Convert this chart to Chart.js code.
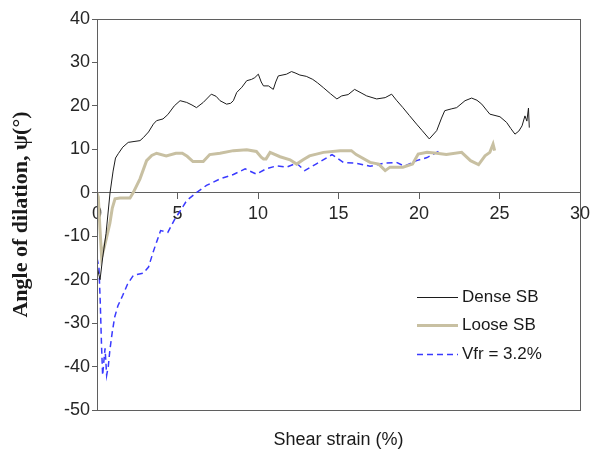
<!DOCTYPE html>
<html lang="en">
<head>
    <meta charset="UTF-8">
    <title>Angle of dilation vs shear strain</title>
    <script src="https://cdn.jsdelivr.net/npm/chart.js"></script>
    <style>
        body { margin: 0; background: #fff; }
        #wrap { width: 590px; height: 461px; }
    </style>
</head>
<body>
    <div id="wrap"><canvas id="dilation-chart" width="590" height="461"></canvas></div>

    <script>
        // values
        const denseX = [0, 0.19, 0.35, 0.56, 0.81, 1.0, 1.15, 1.32, 1.6, 1.94, 2.3, 2.67, 2.88, 3.2, 3.5, 3.7, 4.1, 4.4, 4.8, 5.16, 5.57, 5.9, 6.18, 6.6, 7.1, 7.4, 7.64, 8.05, 8.3, 8.47, 8.68, 9.0, 9.3, 9.6, 9.8, 10.02, 10.2, 10.34, 10.65, 10.95, 11.1, 11.26, 11.77, 12.08, 12.3, 12.6, 13.0, 13.4, 13.7, 14.06, 14.5, 14.9, 15.2, 15.6, 16.0, 16.4, 16.75, 17.37, 17.9, 18.3, 18.6, 19.0, 19.4, 19.85, 20.2, 20.64, 21.1, 21.4, 21.6, 22.0, 22.34, 22.86, 23.27, 23.6, 23.9, 24.2, 24.4, 25.03, 25.44, 25.7, 25.96, 26.2, 26.4, 26.58, 26.7, 26.8, 26.85];
        const denseY = [-17, -20, -15, -9.4, 0, 5, 8, 9, 10.5, 11.6, 11.8, 12, 12.7, 14, 15.8, 16.6, 17, 18, 20, 21.2, 20.8, 20.2, 19.6, 20.8, 22.7, 22.2, 21.2, 20.4, 20.6, 21.2, 23.1, 24.3, 25.8, 26.1, 26.5, 27.3, 25.5, 24.6, 24.6, 23.8, 25.5, 26.9, 27.3, 27.9, 27.6, 27.1, 26.8, 26.1, 25.3, 24.2, 22.8, 21.6, 22.3, 22.6, 23.8, 23.0, 22.3, 21.6, 21.9, 22.7, 21.3, 19.6, 17.8, 15.8, 14.3, 12.4, 14.3, 17.2, 18.9, 19.3, 19.6, 21.2, 21.8, 21.3, 20.4, 19.0, 18.1, 17.5, 16.2, 14.8, 13.5, 14.2, 15.4, 17.7, 16.5, 19.5, 15.0];

        const looseX = [0, 0.08, 0.18, 0.29, 0.45, 0.6, 0.8, 0.95, 1.12, 1.43, 2.05, 2.26, 2.67, 3.08, 3.4, 3.7, 4.3, 4.9, 5.3, 5.6, 5.96, 6.6, 7.0, 7.64, 8.47, 9.3, 9.9, 10.2, 10.34, 10.5, 10.75, 11.37, 11.99, 12.4, 12.8, 13.2, 14.06, 15.1, 15.8, 16.1, 16.96, 17.5, 17.9, 18.2, 19.0, 19.6, 19.95, 20.5, 21.1, 21.7, 22.65, 23.2, 23.7, 24.1, 24.4, 24.6, 24.7];
        const looseY = [0, -1, -8, -14.8, -12.5, -10.2, -7, -3.5, -1.4, -1.2, -1.2, 0.1, 3.2, 7.4, 8.6, 9.1, 8.5, 9.1, 9.1, 8.4, 7.2, 7.2, 8.8, 9.1, 9.7, 9.9, 9.5, 8.2, 7.8, 7.8, 9.3, 8.3, 7.6, 6.6, 7.6, 8.5, 9.3, 9.7, 9.7, 8.8, 7.0, 6.6, 5.1, 5.9, 5.9, 6.6, 8.9, 9.3, 9.1, 8.8, 9.3, 7.4, 6.5, 8.5, 9.3, 11.2, 9.7];

        const vfrX = [0, 0.12, 0.2, 0.28, 0.35, 0.42, 0.5, 0.6, 0.7, 0.8, 0.95, 1.1, 1.3, 1.6, 1.9, 2.26, 2.88, 3.2, 3.5, 3.95, 4.4, 4.84, 5.2, 5.57, 6.2, 6.8, 7.64, 8.47, 9.2, 9.9, 10.5, 11.15, 11.77, 12.4, 12.9, 13.6, 14.6, 15.3, 16.1, 16.96, 17.8, 18.6, 19.1, 19.85, 20.5, 21.3];
        const vfrY = [-15, -17.1, -25, -35, -42, -39, -35.8, -42, -40, -36.2, -32, -28.6, -26, -23.6, -21, -19, -18.5, -17.1, -13.5, -8.7, -9.1, -6.0, -4, -1.8, 0.1, 1.7, 3.2, 4.2, 5.5, 4.3, 5.5, 6.2, 5.9, 6.8, 5.1, 6.6, 8.8, 7.0, 6.8, 6.1, 6.8, 7.0, 6.1, 7.4, 8.1, 9.7];

        const seriesNames = ['Dense SB', 'Loose SB', 'Vfr = 3.2%'];
        const xTicks = [0, 5, 10, 15, 20, 25, 30];
        const yTicks = [-50, -40, -30, -20, -10, 0, 10, 20, 30, 40];

        const toPoints = (xs, ys) => xs.map((x, i) => ({ x: x, y: ys[i] }));

        const sans = "'Liberation Sans', Arial, sans-serif";
        const tickFont = { family: sans, size: 18 };
        const frameColor = '#5f5f5f';

        // box round the plot area plus the legend inside it
        const frameAndLegend = {
            id: 'frameAndLegend',
            afterDraw(chart) {
                const { ctx, chartArea: a } = chart;
                ctx.save();
                ctx.strokeStyle = frameColor;
                ctx.lineWidth = 1;
                ctx.strokeRect(Math.round(a.left) + 0.5, Math.round(a.top) + 0.5,
                               Math.round(a.right - a.left), Math.round(a.bottom - a.top));

                const rowsY = [297, 325, 354];
                ctx.font = "17px " + sans;
                ctx.textBaseline = 'middle';
                chart.data.datasets.forEach((ds, i) => {
                    const y = rowsY[i] + 0.5;
                    ctx.beginPath();
                    ctx.strokeStyle = ds.borderColor;
                    ctx.lineWidth = ds.borderWidth;
                    ctx.setLineDash(ds.borderDash || []);
                    ctx.moveTo(417, y);
                    ctx.lineTo(458, y);
                    ctx.stroke();
                    ctx.setLineDash([]);
                    ctx.fillStyle = '#1a1a1a';
                    ctx.fillText(ds.label, 462, rowsY[i]);
                });
                ctx.restore();
            }
        };

        const ctx = document.getElementById('dilation-chart').getContext('2d');
        const myChart = new Chart(ctx, {
            type: 'line',
            data: {
                datasets: [
                    {
                        label: seriesNames[0],
                        data: toPoints(denseX, denseY),
                        borderColor: '#1c1c1c',
                        borderWidth: 1,
                        pointRadius: 0,
                        tension: 0
                    },
                    {
                        label: seriesNames[1],
                        data: toPoints(looseX, looseY),
                        borderColor: '#c8c0a2',
                        borderWidth: 3,
                        pointRadius: 0,
                        tension: 0
                    },
                    {
                        label: seriesNames[2],
                        data: toPoints(vfrX, vfrY),
                        borderColor: '#3a3aff',
                        borderWidth: 1.5,
                        borderDash: [6, 4],
                        pointRadius: 0,
                        tension: 0
                    }
                ]
            },
            options: {
                responsive: false,
                animation: false,
                layout: { padding: { left: 8, right: 10, top: 19, bottom: 7 } },
                plugins: {
                    legend: { display: false },
                    tooltip: { enabled: false }
                },
                scales: {
                    x: {
                        type: 'linear',
                        position: { y: 0 },
                        min: 0,
                        max: 30,
                        afterBuildTicks: (scale) => { scale.ticks = xTicks.map(v => ({ value: v })); },
                        afterFit: (scale) => { scale.paddingLeft = 0; scale.paddingRight = 0; },
                        grid: { drawOnChartArea: false, tickLength: 6, color: frameColor },
                        border: { color: frameColor },
                        ticks: { font: tickFont, color: '#262626', padding: 4, maxRotation: 0 }
                    },
                    xb: {
                        type: 'linear',
                        position: 'bottom',
                        min: 0,
                        max: 30,
                        grid: { display: false },
                        border: { display: false },
                        ticks: { display: false },
                        title: {
                            display: true,
                            text: 'Shear strain (%)',
                            font: { family: sans, size: 18 },
                            color: '#1a1a1a',
                            padding: { top: 4, bottom: 3 }
                        },
                        afterFit: (scale) => { scale.height = 44; scale.paddingLeft = 0; scale.paddingRight = 0; }
                    },
                    y: {
                        type: 'linear',
                        position: 'left',
                        min: -50,
                        max: 40,
                        afterBuildTicks: (scale) => { scale.ticks = yTicks.map(v => ({ value: v })); },
                        grid: { drawOnChartArea: false, tickLength: 5, color: frameColor },
                        border: { color: frameColor },
                        ticks: { font: tickFont, color: '#262626', padding: 2 },
                        title: {
                            display: true,
                            text: 'Angle of dilation, \u03C8(\u00B0)',
                            font: { family: "'Liberation Serif', 'Times New Roman', serif", size: 22, weight: 'bold' },
                            color: '#1a1a1a',
                            padding: { top: 0, bottom: 4 }
                        },
                        afterFit: (scale) => { scale.width = 89; }
                    }
                }
            },
            plugins: [frameAndLegend]
        });
    </script>
</body>
</html>
